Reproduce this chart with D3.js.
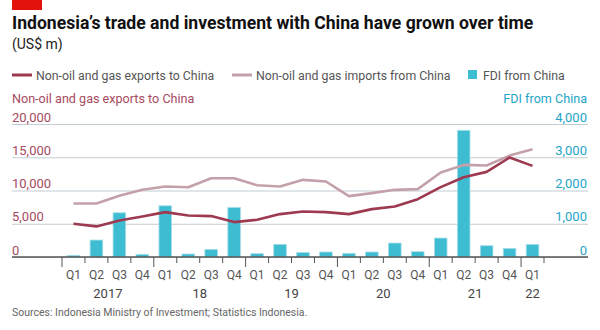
<!DOCTYPE html>
<html>
<head>
<meta charset="utf-8">
<script src="https://cdn.jsdelivr.net/npm/d3@7"></script>
<style>
    body { margin: 0; background: #fff; }
    svg text { font-family: "Roboto", sans-serif; }
</style>
</head>
<body>
<div id="chart"></div>
<script>
// quarterly data, Q1 2017 - Q1 2022
const quarters = ['Q1','Q2','Q3','Q4','Q1','Q2','Q3','Q4','Q1','Q2','Q3','Q4',
                  'Q1','Q2','Q3','Q4','Q1','Q2','Q3','Q4','Q1'];
const quarterYear = ['2017','2017','2017','2017','18','18','18','18','19','19','19','19',
                     '20','20','20','20','21','21','21','21','22'];
const exportsToChina = [5000,4600,5500,6100,6750,6250,6150,5250,5600,6450,6850,6750,
                        6450,7200,7600,8700,10500,12000,12800,14950,13700];
const importsFromChina = [8050,8050,9200,10100,10600,10500,11850,11850,10800,10600,11600,11350,
                          9150,9600,10100,10200,12700,13850,13750,15250,16200];
const fdiFromChina = [50,510,1330,80,1540,90,230,1490,100,380,135,150,
                      110,150,420,160,570,3810,340,260,380];
const leftTicks = [0,5000,10000,15000,20000];
const rightTicks = [0,1000,2000,3000,4000];

const width = 600, height = 330;
const colors = {
    exports: '#9e3a50',
    imports: '#c4a1aa',
    fdi: '#3ebcd2',
    leftText: '#a64a60',
    rightText: '#1ea5c6',
    grid: '#c2ccd3',
    axis: '#555'
};

const svg = d3.select('#chart').append('svg')
    .attr('width', width)
    .attr('height', height)
    .style('display', 'block');

// header: red tag, title, subtitle
const header = svg.append('g').attr('class', 'header');
header.append('rect').attr('x', 12).attr('y', 0).attr('width', 30).attr('height', 10)
    .attr('fill', '#e3120b');
header.append('text').attr('x', 12).attr('y', 29)
    .text('Indonesia\u2019s trade and investment with China have grown over time')
    .attr('font-size', 17.6).attr('font-weight', 'bold').attr('fill', '#111');
header.append('text').attr('x', 12).attr('y', 49).text('(US$ m)')
    .attr('font-size', 14).attr('fill', '#222');

// legend
const legend = svg.append('g');
[{x: 12, label: 'Non-oil and gas exports to China', c: colors.exports},
 {x: 232, label: 'Non-oil and gas imports from China', c: colors.imports}].forEach(d => {
    legend.append('line').attr('x1', d.x).attr('x2', d.x + 20).attr('y1', 75).attr('y2', 75)
        .attr('stroke', d.c).attr('stroke-width', 3);
    legend.append('text').attr('x', d.x + 24).attr('y', 80).text(d.label)
        .attr('font-size', 12.3).attr('fill', '#555');
});
legend.append('rect').attr('x', 468).attr('y', 70).attr('width', 9).attr('height', 9).attr('fill', colors.fdi);
legend.append('text').attr('x', 483).attr('y', 80).text('FDI from China')
    .attr('font-size', 12.3).attr('fill', '#555');

// axis titles
svg.append('text').attr('x', 12).attr('y', 103).text('Non-oil and gas exports to China')
    .attr('font-size', 12.6).attr('fill', colors.leftText);
svg.append('text').attr('x', 587).attr('y', 103).text('FDI from China')
    .attr('text-anchor', 'end').attr('font-size', 12.6).attr('fill', colors.rightText);

// scales
const x = d3.scaleBand().domain(d3.range(quarters.length)).range([62, 544])
    .paddingInner(0.45).paddingOuter(0.225);
const xEdge = d3.scaleLinear().domain([0, quarters.length]).range([62, 544]);
const xMid = i => x(i) + x.bandwidth() / 2;
const y = d3.scaleLinear().domain([0, 20000]).range([257, 124]);
const yR = d3.scaleLinear().domain([0, 4000]).range([257, 124]);

// gridlines + left labels
const gl = svg.append('g').attr('transform', 'translate(12,0)')
    .call(d3.axisRight(y).tickValues(leftTicks).tickSize(576).tickFormat(d3.format(',')));
gl.select('.domain').remove();
gl.selectAll('line').attr('stroke', colors.grid).attr('stroke-width', 1);
gl.selectAll('text').attr('x', 0).attr('dy', -3).attr('text-anchor', 'start')
    .attr('font-size', 13).attr('fill', colors.leftText);

// right labels
const gr = svg.append('g').attr('transform', 'translate(587,0)')
    .call(d3.axisLeft(yR).tickValues(rightTicks).tickSize(0).tickFormat(d3.format(',')));
gr.select('.domain').remove();
gr.selectAll('text').attr('x', 0).attr('dy', -3).attr('text-anchor', 'end')
    .attr('font-size', 13).attr('fill', colors.rightText);
svg.selectAll('.tick text').attr('font-family', null).attr('dominant-baseline', null);

// FDI bars
svg.append('g').selectAll('rect')
    .data(fdiFromChina)
    .enter()
    .append('rect')
    .attr('x', (d, i) => x(i))
    .attr('y', d => yR(d))
    .attr('width', x.bandwidth())
    .attr('height', d => yR(0) - yR(d))
    .attr('fill', colors.fdi)
    .attr('stroke', '#a6dfe9')
    .attr('stroke-width', 0.8);

// lines
const line = d3.line().x((d, i) => xMid(i)).y(d => y(d));
svg.append('path').datum(importsFromChina).attr('d', line)
    .attr('fill', 'none').attr('stroke', colors.imports).attr('stroke-width', 2.6)
    .attr('stroke-linejoin', 'round');
svg.append('path').datum(exportsToChina).attr('d', line)
    .attr('fill', 'none').attr('stroke', colors.exports).attr('stroke-width', 2.6)
    .attr('stroke-linejoin', 'round');

// x axis
const xa = svg.append('g').attr('transform', 'translate(0,257)');
xa.append('line').attr('x1', 12).attr('x2', 588).attr('stroke', colors.axis).attr('stroke-width', 1.5);
xa.selectAll('.edge-tick')
    .data(d3.range(quarters.length + 1))
    .enter()
    .append('line')
    .attr('x1', d => xEdge(d)).attr('x2', d => xEdge(d))
    .attr('y1', 0)
    .attr('y2', d => (d % 4 === 0 && d < quarters.length) ? 10 : 6)
    .attr('stroke', colors.axis).attr('stroke-width', 1);
xa.selectAll('.q-label')
    .data(quarters)
    .enter()
    .append('text')
    .attr('x', (d, i) => xMid(i)).attr('y', 21.5)
    .attr('text-anchor', 'middle').attr('font-size', 12).attr('fill', '#555')
    .text(d => d);

const yearGroups = d3.groups(quarters.map((q, i) => ({year: quarterYear[i], i})), d => d.year);
xa.selectAll('.y-label')
    .data(yearGroups)
    .enter()
    .append('text')
    .attr('x', d => d3.mean(d[1], e => xMid(e.i))).attr('y', 41)
    .attr('text-anchor', 'middle').attr('font-size', 13).attr('fill', '#444')
    .text(d => d[0]);

// source
svg.append('text').attr('x', 12).attr('y', 316)
    .text('Sources: Indonesia Ministry of Investment; Statistics Indonesia.')
    .attr('font-size', 10.5).attr('fill', '#666');
</script>
</body>
</html>
